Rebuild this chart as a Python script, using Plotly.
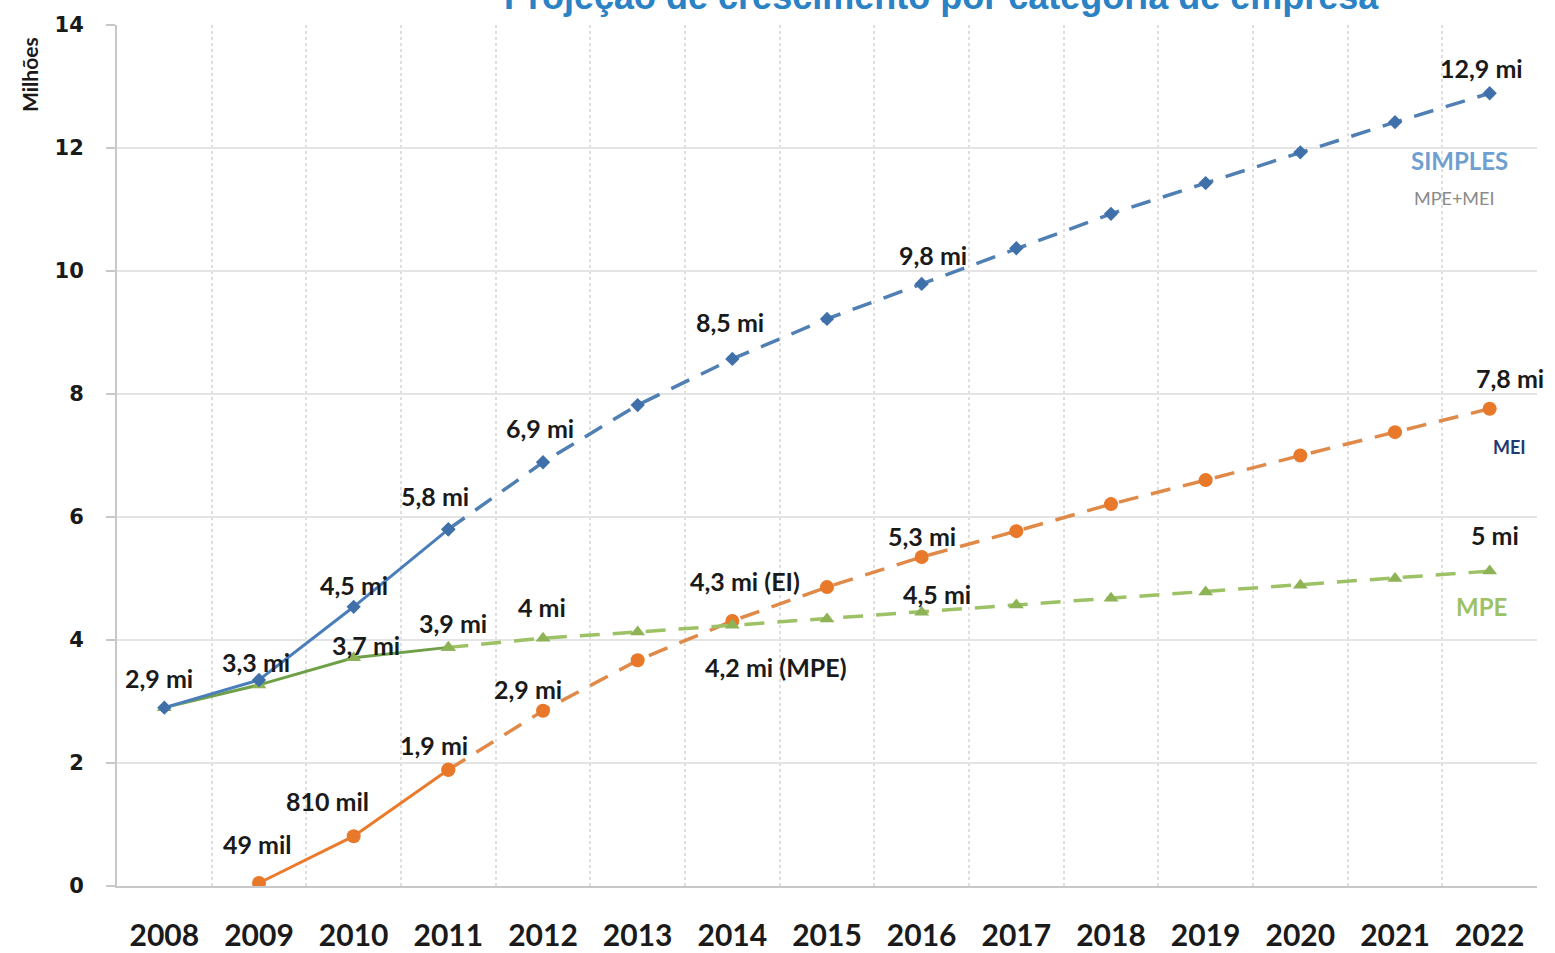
import plotly.graph_objects as go

years = [2008, 2009, 2010, 2011, 2012, 2013, 2014, 2015, 2016, 2017, 2018, 2019, 2020, 2021, 2022]
year_labels = [str(y) for y in years]

simples = [2.9, 3.35, 4.54, 5.8, 6.89, 7.82, 8.57, 9.22, 9.79, 10.37, 10.93, 11.43, 11.93, 12.42, 12.89]
mpe = [2.9, 3.27, 3.71, 3.88, 4.03, 4.13, 4.24, 4.34, 4.45, 4.57, 4.68, 4.78, 4.89, 5.0, 5.12]
mei_years = years[1:]
mei = [0.049, 0.81, 1.89, 2.85, 3.67, 4.31, 4.86, 5.35, 5.77, 6.21, 6.6, 7.0, 7.38, 7.76]

last_actual = 2011
y_ticks = [0, 2, 4, 6, 8, 10, 12, 14]

# data labels: (year, text)
simples_labels = [(2008, "2,9 mi"), (2009, "3,3 mi"), (2010, "4,5 mi"), (2011, "5,8 mi"),
                  (2012, "6,9 mi"), (2014, "8,5 mi"), (2016, "9,8 mi"), (2022, "12,9 mi")]
mpe_labels = [(2010, "3,7 mi"), (2011, "3,9 mi"), (2012, "4 mi"), (2014, "4,2 mi (MPE)"),
              (2016, "4,5 mi"), (2022, "5 mi")]
mei_labels = [(2009, "49 mil"), (2010, "810 mil"), (2011, "1,9 mi"), (2012, "2,9 mi"),
              (2014, "4,3 mi (EI)"), (2016, "5,3 mi"), (2022, "7,8 mi")]

# pixel offsets (layout only)
simples_off = [(-5, 30), (-3, 18), (0, 22), (-13, 33), (-3, 34), (-2, 37), (11, 29), (-8, 25)]
mpe_off = [(12, 13), (5, 24), (-1, 31), (44, -42), (15, 18), (5, 36)]
mei_off = [(-2, 39), (-26, 35), (-14, 25), (-15, 22), (13, 40), (0, 21), (20, 31)]

BLUE_L, BLUE_D, BLUE_M = "#4a7ebb", "#4f7fb3", "#3f70aa"
ORG_L, ORG_D, ORG_M = "#ec7a2c", "#e08a4a", "#e8782a"
GRN_L, GRN_D, GRN_M = "#6fa048", "#9dc266", "#8db356"

fig = go.Figure()


def add_series(xs, ys, color_solid, color_dash, color_m, symbol, msize):
    xa = [x for x in xs if x <= last_actual]
    ya = [y for x, y in zip(xs, ys) if x <= last_actual]
    xp = [x for x in xs if x >= last_actual]
    yp = [y for x, y in zip(xs, ys) if x >= last_actual]
    fig.add_trace(go.Scatter(x=xp, y=yp, mode="lines+markers",
                             line=dict(color=color_dash, width=3.5, dash="20px,13px"),
                             marker=dict(symbol=symbol, size=msize, color=color_m),
                             showlegend=False, hoverinfo="skip"))
    fig.add_trace(go.Scatter(x=xa, y=ya, mode="lines+markers",
                             line=dict(color=color_solid, width=3),
                             marker=dict(symbol=symbol, size=msize, color=color_m),
                             showlegend=False, hoverinfo="skip"))


add_series(mei_years, mei, ORG_L, ORG_D, ORG_M, "circle", 14)
add_series(years, mpe, GRN_L, GRN_D, GRN_M, "triangle-up", 13)
add_series(years, simples, BLUE_L, BLUE_D, BLUE_M, "diamond", 11)

lab_font = dict(family="Lato", size=25, color="#1a1a1a", weight="bold")


def add_labels(xs, ys, labels, offs):
    lookup = dict(zip(xs, ys))
    for (yr, txt), (dx, dy) in zip(labels, offs):
        fig.add_annotation(x=yr, y=lookup[yr], text=txt, showarrow=False,
                           xshift=dx, yshift=dy, font=lab_font)


add_labels(years, simples, simples_labels, simples_off)
add_labels(years, mpe, mpe_labels, mpe_off)
add_labels(mei_years, mei, mei_labels, mei_off)

# series names
fig.add_annotation(x=2022, y=simples[-1], text="SIMPLES", showarrow=False, xshift=-30, yshift=-67,
                   font=dict(family="Lato", size=24, color="#6f9fd0", weight="bold"))
fig.add_annotation(x=2022, y=simples[-1], text="MPE+MEI", showarrow=False, xshift=-35, yshift=-105,
                   font=dict(family="Lato", size=18, color="#8a8a8a"))
fig.add_annotation(x=2022, y=mei[-1], text="MEI", showarrow=False, xshift=20, yshift=-38,
                   font=dict(family="Lato", size=18, color="#1f3a6e", weight="bold"))
fig.add_annotation(x=2022, y=mpe[-1], text="MPE", showarrow=False, xshift=-8, yshift=-35,
                   font=dict(family="Lato", size=24, color="#9dc266", weight="bold"))

# title (partly cut off at top, as in the source image)
fig.add_annotation(xref="paper", yref="paper", x=0.5, y=1, xshift=114, yshift=29,
                   yanchor="middle", xanchor="center", showarrow=False,
                   text="Projeção de crescimento por categoria de empresa",
                   font=dict(family="Liberation Sans", size=36, color="#2b82c4", weight="bold"))

# y-axis title
fig.add_annotation(xref="paper", yref="paper", x=0, y=0.942, xshift=-87,
                   xanchor="center", yanchor="middle", textangle=-90, showarrow=False,
                   text="Milhões", font=dict(family="Lato", size=21, color="#1a1a1a", weight="bold"))

fig.update_layout(
    width=1555, height=953,
    margin=dict(l=117, r=18, t=25, b=67),
    paper_bgcolor="white", plot_bgcolor="white",
    xaxis=dict(range=[2007.5, 2022.5], tickvals=years, ticktext=year_labels, automargin=False,
               showgrid=False, zeroline=False, showline=True, linecolor="#c8c8c8", linewidth=2,
               ticks="", ticklabelstandoff=22,
               tickfont=dict(family="Lato", size=30, color="#1a1a1a", weight="bold"),
               minor=dict(tick0=2007.5, dtick=1, showgrid=True, gridcolor="#dedede",
                          griddash="dot", gridwidth=1.5)),
    yaxis=dict(range=[0, 14], tickvals=y_ticks, showgrid=True, gridcolor="#e4e4e4", gridwidth=2,
               automargin=False,
               zeroline=False, showline=True, linecolor="#c8c8c8", linewidth=2,
               ticks="outside", ticklen=9, tickcolor="#c8c8c8", tickwidth=1.5,
               ticklabelstandoff=18,
               tickfont=dict(family="DejaVu Sans", size=21, color="#1a1a1a", weight="bold")),
)

fig.write_html("out.html", config={"displayModeBar": False},
               post_script="document.body.style.margin='0';document.body.style.overflow='hidden';")
